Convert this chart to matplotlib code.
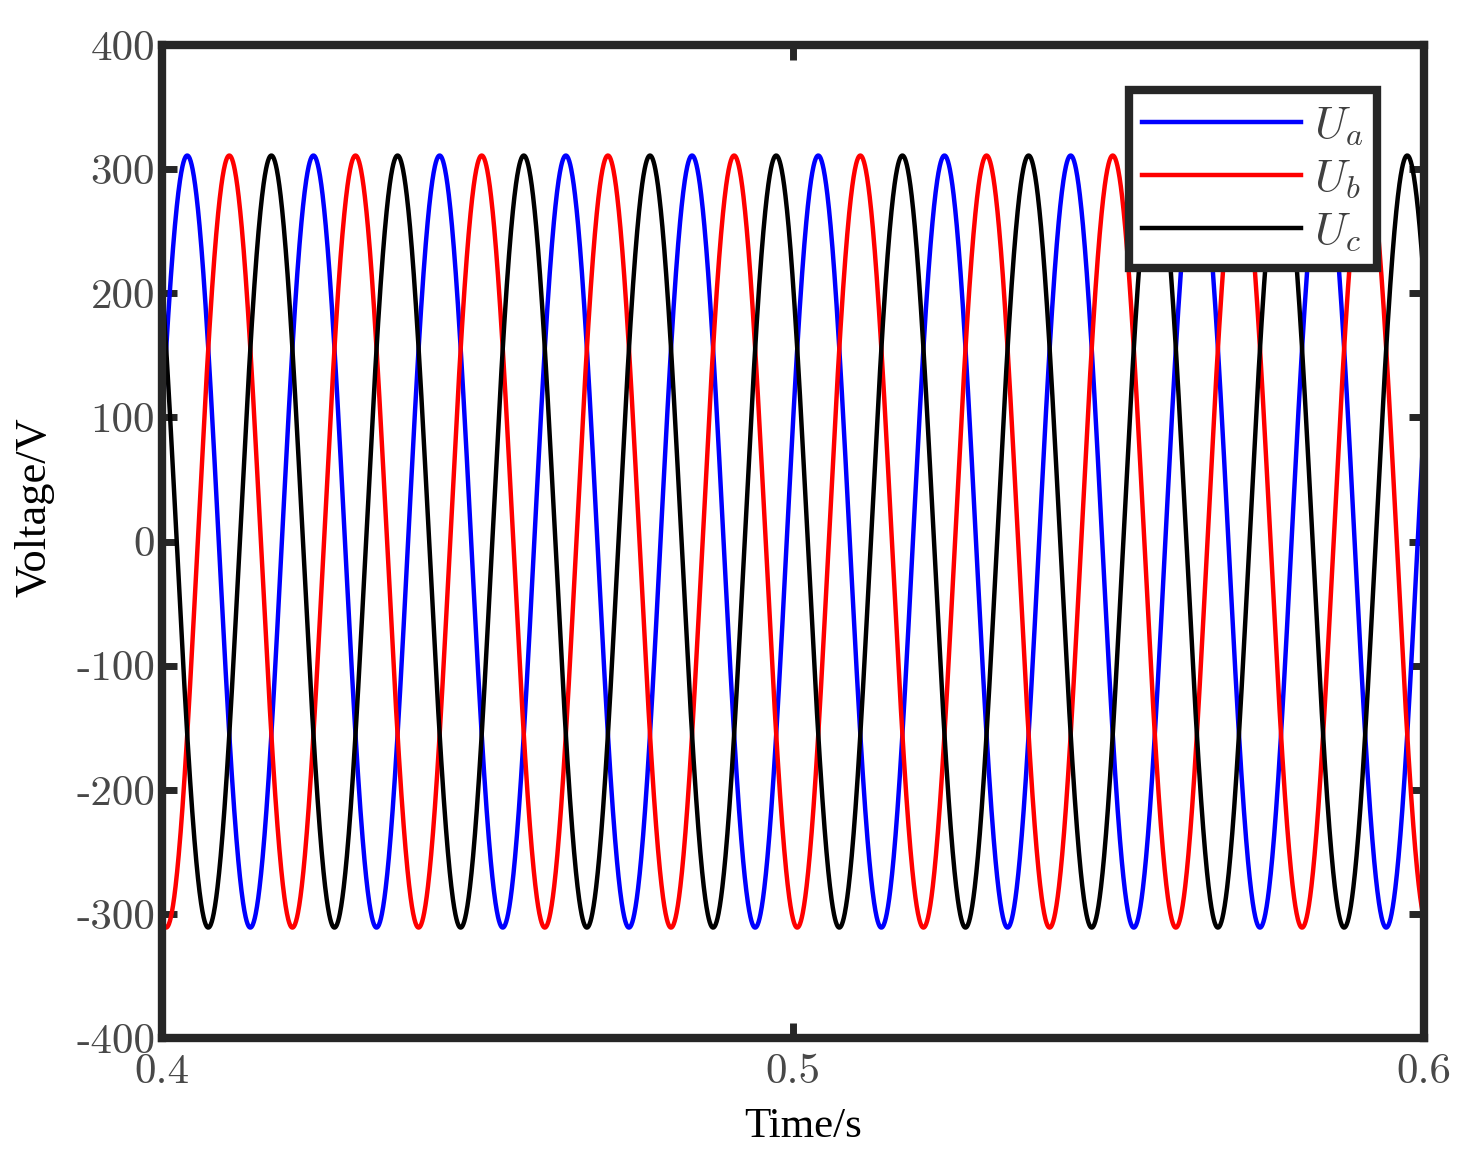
import numpy as np
import matplotlib
matplotlib.use('Agg')
import matplotlib.pyplot as plt

plt.rcParams['mathtext.fontset'] = 'cm'

# values
t_start, t_end = 0.4, 0.6
freq = 50.0            # Hz, one period = 0.02 s
amplitude = 311.0      # V peak
phase_a = 18.0         # deg, phase of Ua at t = 0
phase_shift = [0.0, -120.0, 120.0]
names = ['$U_a$', '$U_b$', '$U_c$']
colors = ['#0000ff', '#ff0000', '#000000']

xticks = [0.4, 0.5, 0.6]
xtick_labels = ['0.4', '0.5', '0.6']
yticks = [-400, -300, -200, -100, 0, 100, 200, 300, 400]
ytick_labels = ['-400', '-300', '-200', '-100', '0', '100', '200', '300', '400']

t = np.linspace(t_start, t_end, 4001)

fig = plt.figure(figsize=(14.82, 11.64), dpi=100)
ax = fig.add_axes([0.1093, 0.1082, 0.8516, 0.8531])

for shift, name, c in zip(phase_shift, names, colors):
    u = amplitude*np.sin(2*np.pi*freq*t + np.deg2rad(phase_a + shift))
    ax.plot(t, u, color=c, lw=3.2, label=name)

ax.set_xlim(t_start, t_end)
ax.set_ylim(-400, 400)

spine_col = '#262626'
for s in ax.spines.values():
    s.set_linewidth(6)
    s.set_color(spine_col)

ax.set_xticks(xticks)
ax.set_xticklabels(xtick_labels)
ax.set_yticks(yticks)
ax.set_yticklabels(ytick_labels)
ax.tick_params(direction='in', length=11, width=5, color=spine_col,
               top=True, right=True, labelsize=31, labelcolor='#484848')
ax.tick_params(axis='y', pad=5)
ax.tick_params(axis='x', pad=11)
for lab in ax.get_xticklabels() + ax.get_yticklabels():
    lab.set_fontfamily('cmr10')

ax.set_xlabel('Time/s', fontsize=31, family='Liberation Serif')
ax.set_ylabel('Voltage/V', fontsize=32, family='Liberation Serif')
ax.xaxis.set_label_coords(0.508, -0.07)
ax.yaxis.set_label_coords(-0.085, 0.535)

leg = ax.legend(loc='upper right', bbox_to_anchor=(0.963, 0.955), fontsize=33,
                fancybox=False, handlelength=3.45, handletextpad=0.3,
                labelspacing=0.17, borderpad=0.3, borderaxespad=0)
leg.get_frame().set_linewidth(6)
leg.get_frame().set_edgecolor(spine_col)
leg.get_frame().set_alpha(1)
for line in leg.get_lines():
    line.set_linewidth(3.2)
for txt in leg.get_texts():
    txt.set_color('#404040')

fig.savefig('out.png', dpi=100)
